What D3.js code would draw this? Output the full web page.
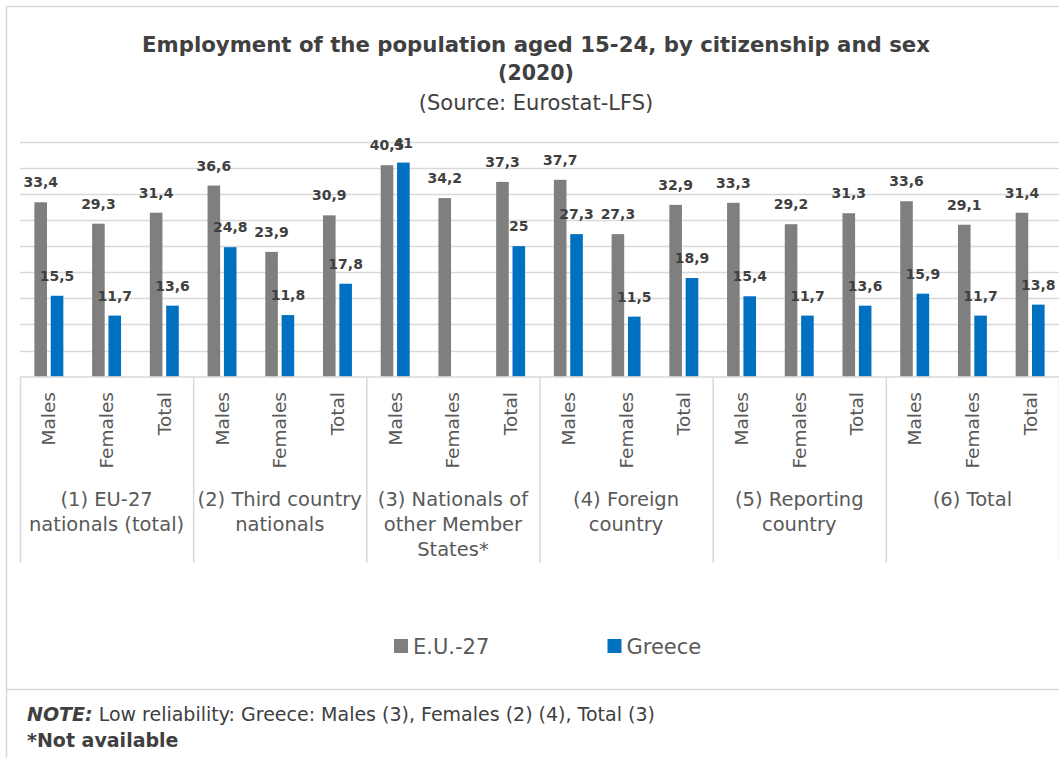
<!DOCTYPE html>
<html>
<head>
<meta charset="utf-8">
<script src="https://cdn.jsdelivr.net/npm/d3@7"></script>
<style>
  html, body { margin: 0; padding: 0; background: #fff; }
  svg { display: block; }
  text { font-family: "DejaVu Sans", Verdana, sans-serif; }
</style>
</head>
<body>
<svg id="chart" width="1059" height="758"></svg>
<script>
// ---- data ----
const groups = ["(1) EU-27 nationals (total)", "(2) Third country nationals", "(3) Nationals of other Member States*", "(4) Foreign country", "(5) Reporting country", "(6) Total"];
const groupLines = [["(1) EU-27", "nationals (total)"], ["(2) Third country", "nationals"], ["(3) Nationals of", "other Member", "States*"], ["(4) Foreign", "country"], ["(5) Reporting", "country"], ["(6) Total"]];
const sexes = ["Males", "Females", "Total"];
const seriesNames = ["E.U.-27", "Greece"];
const eu27 = [33.4, 29.3, 31.4, 36.6, 23.9, 30.9, 40.5, 34.2, 37.3, 37.7, 27.3, 32.9, 33.3, 29.2, 31.3, 33.6, 29.1, 31.4];
const greece = [15.5, 11.7, 13.6, 24.8, 11.8, 17.8, 41, null, 25, 27.3, 11.5, 18.9, 15.4, 11.7, 13.6, 15.9, 11.7, 13.8];
const yTicks = [0, 5, 10, 15, 20, 25, 30, 35, 40, 45];

const colors = { "E.U.-27": "#7f7f7f", "Greece": "#0070c0" };
const svg = d3.select("#chart");

// frame
svg.append("line").attr("x1", 6).attr("x2", 1059).attr("y1", 6.5).attr("y2", 6.5).attr("stroke", "#d9d9d9").attr("stroke-width", 1.5);
svg.append("line").attr("x1", 6.5).attr("x2", 6.5).attr("y1", 6).attr("y2", 758).attr("stroke", "#d9d9d9").attr("stroke-width", 1.5);
svg.append("line").attr("x1", 6).attr("x2", 1059).attr("y1", 689.5).attr("y2", 689.5).attr("stroke", "#d9d9d9").attr("stroke-width", 1.5);

// title
const titleG = svg.append("g").attr("fill", "#404040").attr("text-anchor", "middle");
const t1 = titleG.append("text").attr("x", 536).attr("y", 52).attr("font-size", 20.5).attr("font-weight", "bold")
  .text("Employment of the population aged 15-24, by citizenship and sex");
const w1 = t1.node().getComputedTextLength();
if (Math.abs(w1 - 788) > 4) t1.attr("textLength", 788).attr("lengthAdjust", "spacingAndGlyphs");
titleG.append("text").attr("x", 536).attr("y", 80).attr("font-size", 20.5).attr("font-weight", "bold").text("(2020)");
titleG.append("text").attr("x", 536).attr("y", 110).attr("font-size", 21).text("(Source: Eurostat-LFS)");

// scales
const plotLeft = 20, plotRight = 1059, plotBase = 376.7, plotTop = 141.7;
const cats = d3.range(groups.length * sexes.length);
const x0 = d3.scaleBand().domain(cats).range([plotLeft, plotRight]).paddingInner(0).paddingOuter(0);
const x1 = d3.scaleBand().domain(seriesNames).range([0, x0.bandwidth()]).paddingInner(0.23).paddingOuter(0.88);
const y = d3.scaleLinear().domain([0, 45]).range([plotBase, plotTop]);
const gw = (plotRight - plotLeft) / groups.length;

// gridlines
svg.append("g").selectAll("line").data(yTicks.filter(d => d > 0)).join("line")
  .attr("x1", plotLeft).attr("x2", plotRight)
  .attr("y1", d => Math.round(y(d)) + 0.5).attr("y2", d => Math.round(y(d)) + 0.5)
  .attr("stroke", "#d9d9d9").attr("stroke-width", 1.5);

// bars
const fmt = v => d3.format(".1~f")(v).replace(".", ",");
const series = [{ name: "E.U.-27", vals: eu27 }, { name: "Greece", vals: greece }];
const barG = svg.append("g");
series.forEach(s => {
  const data = cats.map(i => ({ i, v: s.vals[i] })).filter(d => d.v != null);
  barG.selectAll(null).data(data).join("rect")
    .attr("x", d => x0(d.i) + x1(s.name))
    .attr("y", d => y(d.v))
    .attr("width", x1.bandwidth())
    .attr("height", d => plotBase - y(d.v))
    .attr("fill", colors[s.name]);
});
// axis baseline + group separators
svg.append("line").attr("x1", plotLeft).attr("x2", plotRight).attr("y1", plotBase + 0.3).attr("y2", plotBase + 0.3).attr("stroke", "#d9d9d9").attr("stroke-width", 1.5);
svg.append("g").selectAll("line").data(d3.range(groups.length + 1)).join("line")
  .attr("x1", d => plotLeft + d * gw + 0.5).attr("x2", d => plotLeft + d * gw + 0.5)
  .attr("y1", plotBase).attr("y2", 563).attr("stroke", "#d9d9d9").attr("stroke-width", 1.5);

// data labels
const lblG = svg.append("g").attr("fill", "#404040").attr("font-size", 14).attr("font-weight", "bold").attr("text-anchor", "middle");
series.forEach(s => {
  const data = cats.map(i => ({ i, v: s.vals[i] })).filter(d => d.v != null);
  lblG.selectAll(null).data(data).join("text")
    .attr("x", d => x0(d.i) + x1(s.name) + x1.bandwidth() / 2)
    .attr("y", d => y(d.v) - 15)
    .text(d => fmt(d.v));
});

// category labels
svg.append("g").attr("fill", "#595959").attr("font-size", 18.5).attr("text-anchor", "end")
  .selectAll("text").data(cats).join("text")
  .attr("transform", d => `translate(${x0(d) + x0.bandwidth() / 2},392) rotate(-90)`)
  .attr("dy", "0.35em")
  .text(d => sexes[d % 3]);

// group labels
const gG = svg.append("g").attr("fill", "#595959").attr("font-size", 19.5).attr("text-anchor", "middle");
groupLines.forEach((lines, g) => {
  lines.forEach((ln, k) => {
    gG.append("text").attr("x", plotLeft + (g + 0.5) * gw).attr("y", 506 + k * 25).text(ln);
  });
});

// legend
const legG = svg.append("g");
const legX = [394, 607.5];
seriesNames.forEach((n, k) => {
  legG.append("rect").attr("x", legX[k]).attr("y", 639).attr("width", 14).attr("height", 14).attr("fill", colors[n]);
  legG.append("text").attr("x", legX[k] + 19).attr("y", 654).attr("font-size", 21).attr("fill", "#595959").text(n);
});

// note
const note = svg.append("text").attr("x", 27).attr("y", 721).attr("font-size", 19).attr("fill", "#404040");
note.append("tspan").attr("font-weight", "bold").attr("font-style", "italic").text("NOTE:");
note.append("tspan").text(" Low reliability: Greece: Males (3), Females (2) (4), Total (3)");
svg.append("text").attr("x", 27).attr("y", 747).attr("font-size", 19).attr("font-weight", "bold").attr("fill", "#404040").text("*Not available");
</script>
</body>
</html>
